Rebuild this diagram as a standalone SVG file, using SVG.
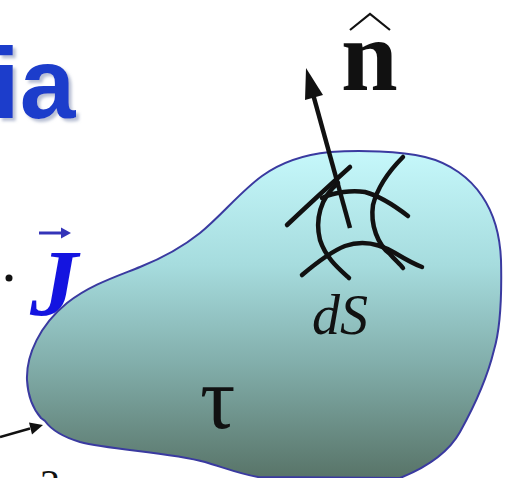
<svg xmlns="http://www.w3.org/2000/svg" width="510" height="478" viewBox="0 0 510 478">
  <defs>
    <linearGradient id="fillGrad" gradientUnits="userSpaceOnUse" x1="0" y1="150" x2="0" y2="478">
      <stop offset="0" stop-color="#c6f8fb"/>
      <stop offset="0.35" stop-color="#a6dcde"/>
      <stop offset="0.65" stop-color="#82aeab"/>
      <stop offset="1" stop-color="#587468"/>
    </linearGradient>
    <filter id="shadow" x="-20%" y="-20%" width="140%" height="140%">
      <feDropShadow dx="3" dy="3" stdDeviation="1.5" flood-color="#8a96b8" flood-opacity="0.6"/>
    </filter>
    <style>
      .patch { fill: none; stroke: #111; stroke-width: 4.5; stroke-linecap: round; }
      .title { font-family: "Liberation Sans", Arial, sans-serif; font-weight: bold; font-size: 100px; }
      .math { font-family: "Liberation Serif", "Times New Roman", serif; fill: #111; }
    </style>
  </defs>
  <rect width="510" height="478" fill="#ffffff"/>

  <g id="title">
    <text class="title" x="-8" y="118" fill="#1e3ecb" filter="url(#shadow)">ia</text>
  </g>

  <g id="dot">
    <circle cx="9" cy="278" r="3.5" fill="#111"/>
  </g>

  <g id="J">
    <text x="30" y="316" font-family="Liberation Serif, Times New Roman, serif" font-weight="bold" font-style="italic" font-size="96" fill="#1414e0">J</text>
    <line x1="39" y1="233" x2="64" y2="233" stroke="#3434b8" stroke-width="3"/>
    <polygon points="71,233 61,227.5 61,238.5" fill="#3434b8"/>
  </g>

  <g id="volume">
    <path d="M27,380 C26,355 40,325 67,303 C90,285 115,277 140,267 C165,257 185,245 200,233 C222,215 240,192 262,176 C280,163 300,155 330,152 C360,150 400,151 425,157 C450,163 470,178 482,196 C495,215 500,235 501,260 C502,300 500,330 494,350 C488,375 475,405 460,432 C450,450 430,466 400,478 L258,477 C240,474 225,468 205,462 C170,452 110,450 80,442 C60,436 50,428 45,421 L41,418 C34,410 28,398 27,380 Z" fill="url(#fillGrad)" stroke="#3a3aa0" stroke-width="2"/>
  </g>

  <g id="patch">
    <path class="patch" d="M287,225 C305,208 330,185 350,167"/>
    <path class="patch" d="M338,183 C320,198 315,220 320,240 C326,258 338,268 349,278"/>
    <path class="patch" d="M322,198 C335,192 352,190 365,192 C380,196 395,206 408,216"/>
    <path class="patch" d="M403,157 C390,170 378,185 373,205 C370,225 378,245 390,254 C395,260 400,264 403,268"/>
    <path class="patch" d="M302,275 C315,264 330,252 345,246 C362,240 380,244 395,253 C405,259 414,264 422,267"/>
  </g>

  <g id="connectors">
    <line x1="350" y1="228" x2="313.5" y2="96" stroke="#111" stroke-width="4.5"/>
    <polygon points="306,68 323,95 305,100" fill="#111"/>
    <line x1="0" y1="437" x2="30" y2="428.5" stroke="#111" stroke-width="2.5"/>
    <polygon points="43,425 29,422.5 32,434.5" fill="#111"/>
  </g>

  <g id="labels">
    <text class="math" x="341" y="90" font-weight="bold" font-size="102">n</text>
    <path d="M350,30 L370,14 L390,30" fill="none" stroke="#111" stroke-width="2.2"/>
    <text class="math" x="312" y="334" font-style="italic" font-size="56" fill="#222">dS</text>
    <text class="math" x="200" y="428" font-size="88">τ</text>
    <text class="math" x="40" y="497" font-size="40">2</text>
  </g>
</svg>
